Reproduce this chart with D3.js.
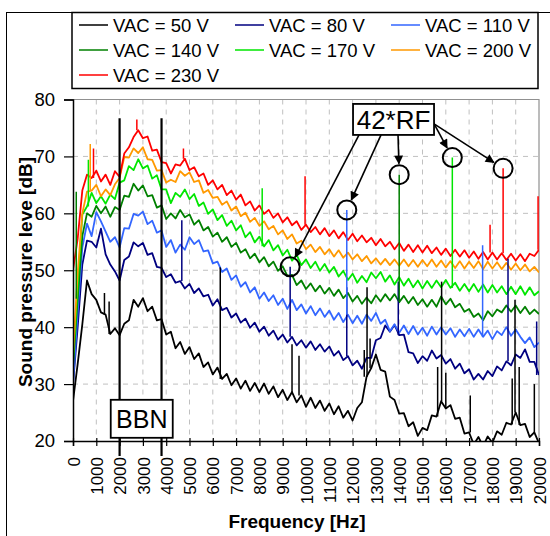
<!DOCTYPE html>
<html>
<head>
<meta charset="utf-8">
<script src="https://cdn.jsdelivr.net/npm/d3@7"></script>
<style>
  body { margin: 0; background: #fff; }
  svg { display: block; font-family: Arial, "Liberation Sans", sans-serif; }
</style>
</head>
<body>
<svg id="chart"></svg>
<script>

// frequency grid of the sampled spectra (Hz)
var freqStep = 200;
var freqs = d3.range(0, 20001, freqStep);

var xTickLabels = [0,1000,2000,3000,4000,5000,6000,7000,8000,9000,10000,
                   11000,12000,13000,14000,15000,16000,17000,18000,19000,20000];
var yTickLabels = [20,30,40,50,60,70,80];

// sound pressure level [dB], one value every 200 Hz
var vac50 = [27.0,33.5,40.5,48.2,45.8, 44.8,42.6,42.2,38.8,39.8, 38.6,40.6,41.2,44.8,43.6,
  45.1,42.8,43.6,41.2,41.4, 38.7,39.2,36.3,37.4,35.3, 36.5,34.4,35.4,33.0,33.8,
  31.7,32.9,30.9,31.8,29.8, 31.0,29.2,30.6,28.8,30.2, 28.6,30.1,28.3,29.6,27.7,
  29.0,27.2,28.6,26.8,28.0, 26.0,27.6,25.8,27.1,25.3, 26.6,24.7,26.1,24.1,25.3,
  23.6,25.8,26.8,31.3,32.8, 35.2,32.5,32.2,27.8,27.2, 24.8,24.9,22.6,23.3,20.9,
  22.3,21.9,24.5,24.3,27.0, 25.7,26.3,23.9,24.1,21.3, 21.5,19.4,20.7,19.1,20.8,
  19.7,21.7,21.1,23.2,22.9, 25.0,22.8,23.0,20.7,21.5, 19.6];

var vac80 = [30.0,40.0,51.0,55.2,55.0, 54.0,57.3,52.8,51.0,49.8, 48.2,51.8,52.4,54.9,54.2,
  54.8,52.7,53.0,50.6,50.4, 48.8,49.3,47.8,48.1,46.8, 47.6,46.0,46.8,45.4,45.7,
  43.8,44.9,43.0,43.4,41.7, 42.4,40.8,41.5,39.9,40.8, 39.2,40.1,38.5,39.4,37.8,
  38.7,37.3,38.3,36.8,37.7, 36.4,37.5,36.0,37.0,35.7, 36.6,35.0,35.8,34.2,34.9,
  33.3,34.1,32.7,34.6,34.6, 37.7,38.1,40.3,39.2,40.4, 38.6,38.7,35.6,35.4,33.7,
  34.9,34.1,35.9,34.5,35.1, 33.6,34.4,32.7,33.6,31.9, 32.6,30.8,31.8,30.8,32.3,
  31.4,33.1,32.4,34.0,33.3, 35.2,34.6,36.1,33.9,33.9, 31.6];

var vac110 = [30.0,42.5,54.0,58.2,56.0, 60.2,58.6,56.8,55.0,55.8, 54.0,57.4,57.3,59.9,59.6,
  60.3,58.1,58.7,56.6,57.0, 54.1,55.3,53.1,54.5,53.6, 55.8,54.6,55.3,53.3,53.5,
  51.2,51.5,49.7,50.3,48.3, 49.1,47.1,47.9,46.1,47.0, 45.0,46.1,44.6,45.6,43.9,
  45.0,43.2,44.8,43.0,44.0, 42.4,43.7,42.1,43.3,41.8, 42.9,41.3,42.5,40.9,42.2,
  40.7,42.0,40.6,42.2,41.1, 42.5,40.6,41.3,39.3,40.5, 39.0,40.3,38.8,40.2,38.7,
  39.9,38.5,40.1,38.7,40.0, 38.7,39.8,38.3,39.6,38.4, 39.7,38.3,39.6,38.3,39.4,
  37.9,39.3,38.6,40.0,38.5, 39.6,38.3,37.2,38.2,36.5, 37.3];

var vac140 = [33.0,45.0,56.0,60.0,59.4, 61.3,60.0,61.2,59.4,61.1, 60.6,63.1,62.9,65.2,64.0,
  64.9,63.0,63.2,61.0,61.4, 59.0,60.0,59.1,60.6,59.3, 59.8,58.0,58.8,57.0,57.6,
  55.9,56.6,55.0,55.8,54.1, 54.8,53.1,53.7,52.1,52.9, 51.4,52.3,50.7,51.5,49.9,
  50.7,49.0,49.2,47.4,48.2, 46.7,47.7,46.3,47.3,45.9, 46.9,45.5,46.6,45.1,46.0,
  44.5,45.5,44.1,45.2,44.2, 45.6,44.5,45.8,44.7,45.8, 44.4,45.5,44.2,45.3,43.9,
  44.9,43.6,44.8,43.6,45.4, 44.0,45.0,43.5,44.1,42.7, 43.2,41.8,42.4,41.2,42.8,
  41.9,43.1,42.6,43.8,42.7, 43.8,42.5,43.6,42.3,43.1, 42.3];

var vac170 = [34.0,47.0,59.8,61.2,63.6, 61.8,63.0,61.7,63.3,62.5, 65.4,65.8,68.3,67.6,69.5,
  67.9,68.4,66.1,66.7,64.2, 64.2,61.8,63.6,62.9,64.2, 62.5,63.4,61.3,61.9,59.9,
  60.7,58.8,59.7,57.8,58.7, 57.0,57.9,55.8,56.7,54.9, 55.9,54.2,55.3,53.5,54.4,
  52.6,53.6,51.7,52.7,50.9, 51.9,50.4,51.5,49.9,51.1, 49.6,50.6,48.9,49.9,48.3,
  49.4,47.8,49.0,47.9,49.6, 48.6,49.7,48.0,49.1,47.5, 48.8,47.3,48.5,47.0,48.2,
  46.8,48.1,46.9,48.2,47.0, 48.3,46.9,47.8,46.4,47.6, 46.3,47.6,46.2,47.5,46.1,
  47.4,46.1,47.2,45.8,47.1, 45.8,47.2,45.7,47.0,45.6, 46.3];

var vac200 = [35.0,49.5,60.0,63.8,64.0, 65.0,63.0,64.2,63.2,65.1, 66.2,69.9,69.8,71.4,70.6,
  71.6,69.5,69.4,67.5,67.6, 65.4,65.9,65.5,67.4,66.6, 67.2,65.5,65.8,63.6,64.1,
  62.7,62.9,61.5,62.1,60.5, 61.2,59.5,60.1,58.5,59.2, 57.8,58.6,57.2,57.8,56.3,
  57.0,55.5,56.3,54.7,55.2, 53.7,54.5,53.2,54.1,52.8, 53.7,52.4,53.5,52.2,53.1,
  51.9,52.8,51.6,52.5,51.2, 52.1,51.0,52.0,50.9,51.9, 50.8,51.9,50.7,51.8,50.6,
  51.8,50.7,51.9,50.6,51.7, 50.5,51.6,50.4,51.6,50.3, 51.5,50.4,51.6,50.2,51.5,
  50.3,51.4,50.2,51.3,50.1, 51.2,50.0,51.0,49.8,50.6, 49.6];

var vac230 = [50.0,55.5,64.0,66.8,66.2, 67.5,65.6,66.8,65.0,67.4, 66.4,70.5,71.6,73.4,74.6,
  73.2,73.5,71.0,71.2,69.0, 68.8,67.0,68.6,68.4,69.6, 67.6,68.1,66.5,67.0,65.0,
  65.8,64.2,65.0,63.2,64.0, 62.4,63.3,61.4,62.1,60.5, 61.4,59.9,60.6,59.2,60.0,
  58.4,59.3,57.9,58.6,57.1, 58.0,56.7,57.6,56.3,57.4, 56.0,57.0,55.6,56.7,55.3,
  56.4,55.1,56.1,54.9,55.7, 54.4,55.5,54.2,55.0,53.7, 54.8,53.4,54.5,53.2,54.4,
  53.1,54.3,53.0,54.0,52.7, 53.8,52.5,53.6,52.4,53.5, 52.2,53.3,52.0,53.2,51.9,
  53.1,51.9,53.0,51.8,52.9, 51.7,52.8,51.6,52.9,52.5, 53.6];

// narrow tones: [frequency Hz, peak dB]
var spikes50  = [[1350,46],[1550,44.5],[6320,50.5],[9400,37],[9700,35],[12500,36],[12620,47],
                 [12750,38],[15650,33],[15820,48],[16000,32],[17050,28],[18850,31],[18970,44.8],
                 [19150,33],[19800,30]];
var spikes80  = [[4670,58.8],[9320,50.6],[11750,47],[13960,48],[18670,52],[19900,41]];
var spikes110 = [[11750,60.6],[17580,54.4]];
var spikes140 = [[140,63.8],[14000,66.8]];
var spikes170 = [[660,69.4],[8120,64.4],[16280,69.8]];
var spikes200 = [[740,72.2]];
var spikes230 = [[880,71.4],[2740,76.5],[4740,71.4],[9960,66.5],[17900,58],[18460,67.9],[19960,63]];

// 42*RF tones that are circled
var rfMarks = [[9320,50.6],[11750,60.6],[14000,66.8],[16280,69.8],[18460,67.9]];
// broadband noise band limits
var bbnFreqs = [2000, 3800];

var series = [
  {name: "VAC = 50 V",  color: "#000000", values: vac50,  spikes: spikes50},
  {name: "VAC = 80 V",  color: "#000080", values: vac80,  spikes: spikes80},
  {name: "VAC = 110 V", color: "#3366ff", values: vac110, spikes: spikes110},
  {name: "VAC = 140 V", color: "#008000", values: vac140, spikes: spikes140},
  {name: "VAC = 170 V", color: "#00e600", values: vac170, spikes: spikes170},
  {name: "VAC = 200 V", color: "#ff9900", values: vac200, spikes: spikes200},
  {name: "VAC = 230 V", color: "#ff0000", values: vac230, spikes: spikes230}
];

var width = 550, height = 536;
var svg = d3.select("#chart").attr("width", width).attr("height", height);

var xScale = d3.scaleLinear().domain([0, 20000]).range([73, 539]);
var yScale = d3.scaleLinear().domain([20, 80]).range([441, 99.5]);

// outer frame
svg.append("rect")
  .attr("x", 6.5).attr("y", 12.5).attr("width", 600).attr("height", 600)
  .attr("fill", "none").attr("stroke", "#000").attr("stroke-width", 1);

// grid
var grid = svg.append("g");
grid.selectAll("line.v")
  .data(xTickLabels.filter(d => d > 0 && d < 20000))
  .enter().append("line")
    .attr("x1", d => xScale(d)).attr("x2", d => xScale(d))
    .attr("y1", yScale(80)).attr("y2", yScale(20))
    .attr("stroke", "#c0c0c0").attr("stroke-dasharray", "5,5");
grid.selectAll("line.h")
  .data(yTickLabels.filter(d => d > 20 && d < 80))
  .enter().append("line")
    .attr("x1", xScale(0)).attr("x2", xScale(20000))
    .attr("y1", d => yScale(d)).attr("y2", d => yScale(d))
    .attr("stroke", "#c0c0c0").attr("stroke-dasharray", "5,5");

// plot frame (top, right)
svg.append("path")
  .attr("d", `M${xScale(0)},${yScale(80)}H${xScale(20000)}V${yScale(20)}`)
  .attr("fill", "none").attr("stroke", "#909090").attr("stroke-width", 1.2);

svg.append("clipPath").attr("id", "plotclip")
  .append("rect")
    .attr("x", xScale(0)).attr("y", yScale(80))
    .attr("width", xScale(20000) - xScale(0))
    .attr("height", yScale(20) - yScale(80));

var plot = svg.append("g").attr("clip-path", "url(#plotclip)");

var line = d3.line()
  .x((d, i) => xScale(freqs[i]))
  .y(d => yScale(d));

series.forEach(function(s) {
  plot.append("path")
    .attr("d", line(s.values))
    .attr("fill", "none")
    .attr("stroke", s.color)
    .attr("stroke-width", 1.8)
    .attr("stroke-linejoin", "round");
});

series.forEach(function(s) {
  plot.selectAll(null)
    .data(s.spikes)
    .enter().append("line")
      .attr("x1", d => xScale(d[0])).attr("x2", d => xScale(d[0]))
      .attr("y1", d => yScale(s.values[Math.round(d[0] / freqStep)]))
      .attr("y2", d => yScale(d[1]))
      .attr("stroke", s.color)
      .attr("stroke-width", 1.5);
});

// axes
var xAxis = d3.axisBottom(xScale).tickValues(xTickLabels).tickSize(5).tickFormat(d3.format("d"));
var gx = svg.append("g")
  .attr("transform", `translate(0,${yScale(20)})`)
  .call(xAxis);
gx.select(".domain").attr("stroke", "#000").attr("stroke-width", 1.5);
gx.selectAll(".tick line").attr("y1", -3).attr("stroke-width", 1.2);
gx.selectAll(".tick text")
  .attr("transform", "rotate(-90)")
  .attr("text-anchor", "end")
  .attr("x", -16).attr("y", 0).attr("dy", "0.36em")
  .style("font-size", "17px")
  .style("font-family", 'Arial, "Liberation Sans", sans-serif')
  .attr("fill", "#000");

var yAxis = d3.axisLeft(yScale).tickValues(yTickLabels).tickSize(9).tickPadding(9);
var gy = svg.append("g")
  .attr("transform", `translate(${xScale(0)},0)`)
  .call(yAxis);
gy.select(".domain").attr("stroke", "#000").attr("stroke-width", 1.5);
gy.selectAll(".tick line").attr("stroke-width", 1.2);
gy.selectAll(".tick text")
  .style("font-size", "18.5px")
  .style("font-family", 'Arial, "Liberation Sans", sans-serif')
  .attr("fill", "#000");

svg.append("text")
  .attr("transform", "translate(25,272) rotate(-90)")
  .attr("text-anchor", "middle").attr("dy", "0.36em")
  .style("font-size", "19px").style("font-weight", "bold")
  .text("Sound pressure leve [dB]");

svg.append("text")
  .attr("x", 297).attr("y", 528)
  .attr("text-anchor", "middle")
  .style("font-size", "19px").style("font-weight", "bold")
  .text("Frequency [Hz]");

// BBN annotation
var bbnBottom = yScale(20) + 15;
svg.selectAll("line.bbn")
  .data(bbnFreqs)
  .enter().append("line")
    .attr("x1", d => xScale(d)).attr("x2", d => xScale(d))
    .attr("y1", yScale(76.7)).attr("y2", bbnBottom)
    .attr("stroke", "#000").attr("stroke-width", 2.2);

var bbnBox = {f: 2950, db: 23.9, w: 62, h: 38};
svg.append("rect")
  .attr("x", xScale(bbnBox.f) - bbnBox.w / 2).attr("y", yScale(bbnBox.db) - bbnBox.h / 2)
  .attr("width", bbnBox.w).attr("height", bbnBox.h)
  .attr("fill", "#fff").attr("stroke", "#000").attr("stroke-width", 1.8);
svg.append("text")
  .attr("x", xScale(bbnBox.f)).attr("y", yScale(bbnBox.db))
  .attr("text-anchor", "middle").attr("dy", "0.36em")
  .style("font-size", "25px")
  .text("BBN");

// 42*RF annotation
var defs = svg.append("defs");
defs.append("marker")
  .attr("id", "arrow").attr("viewBox", "0 0 10 10")
  .attr("refX", 9).attr("refY", 5)
  .attr("markerWidth", 11).attr("markerHeight", 9)
  .attr("markerUnits", "userSpaceOnUse")
  .attr("orient", "auto")
  .append("path").attr("d", "M0,0L10,5L0,10z").attr("fill", "#000");

var rfBox = {f: 13757, db: 76.5, w: 81, h: 31};
var bx = xScale(rfBox.f) - rfBox.w / 2, by = yScale(rfBox.db) - rfBox.h / 2;
// where each arrow leaves the box (box-local px)
var arrowStarts = [[6, 31], [28, 31], [45, 31], [80, 18], [81, 20]];
var circleR = 9.5;

rfMarks.forEach(function(m, i) {
  var cx = xScale(m[0]), cy = yScale(m[1]);
  var sx = bx + arrowStarts[i][0], sy = by + arrowStarts[i][1];
  var dx = cx - sx, dy = cy - sy, len = Math.sqrt(dx * dx + dy * dy);
  var ex = cx - dx / len * (circleR + 1.5), ey = cy - dy / len * (circleR + 1.5);
  svg.append("line")
    .attr("x1", sx).attr("y1", sy).attr("x2", ex).attr("y2", ey)
    .attr("stroke", "#000").attr("stroke-width", 1.6)
    .attr("marker-end", "url(#arrow)");
  svg.append("circle")
    .attr("cx", cx).attr("cy", cy).attr("r", circleR)
    .attr("fill", "none").attr("stroke", "#000").attr("stroke-width", 2);
});

svg.append("rect")
  .attr("x", bx).attr("y", by).attr("width", rfBox.w).attr("height", rfBox.h)
  .attr("fill", "#fff").attr("stroke", "#000").attr("stroke-width", 1.8);
svg.append("text")
  .attr("x", xScale(rfBox.f)).attr("y", yScale(rfBox.db))
  .attr("text-anchor", "middle").attr("dy", "0.36em")
  .style("font-size", "26px")
  .text("42*RF");

// legend
var legend = svg.append("g");
legend.append("rect")
  .attr("x", 72).attr("y", 12.5).attr("width", 466).attr("height", 76)
  .attr("fill", "#fff").attr("stroke", "#000").attr("stroke-width", 1.5);
var colX = [79, 235, 391];
var rowY = [25, 50, 75];
var items = legend.selectAll("g.item")
  .data(series)
  .enter().append("g")
    .attr("transform", (d, i) => `translate(${colX[i % 3]},${rowY[Math.floor(i / 3)]})`);
items.append("line")
  .attr("x1", 0).attr("x2", 29)
  .attr("stroke", d => d.color).attr("stroke-width", 1.5);
items.append("text")
  .attr("x", 34).attr("dy", "0.36em")
  .style("font-size", "18.5px")
  .text(d => d.name);

</script>
</body>
</html>
